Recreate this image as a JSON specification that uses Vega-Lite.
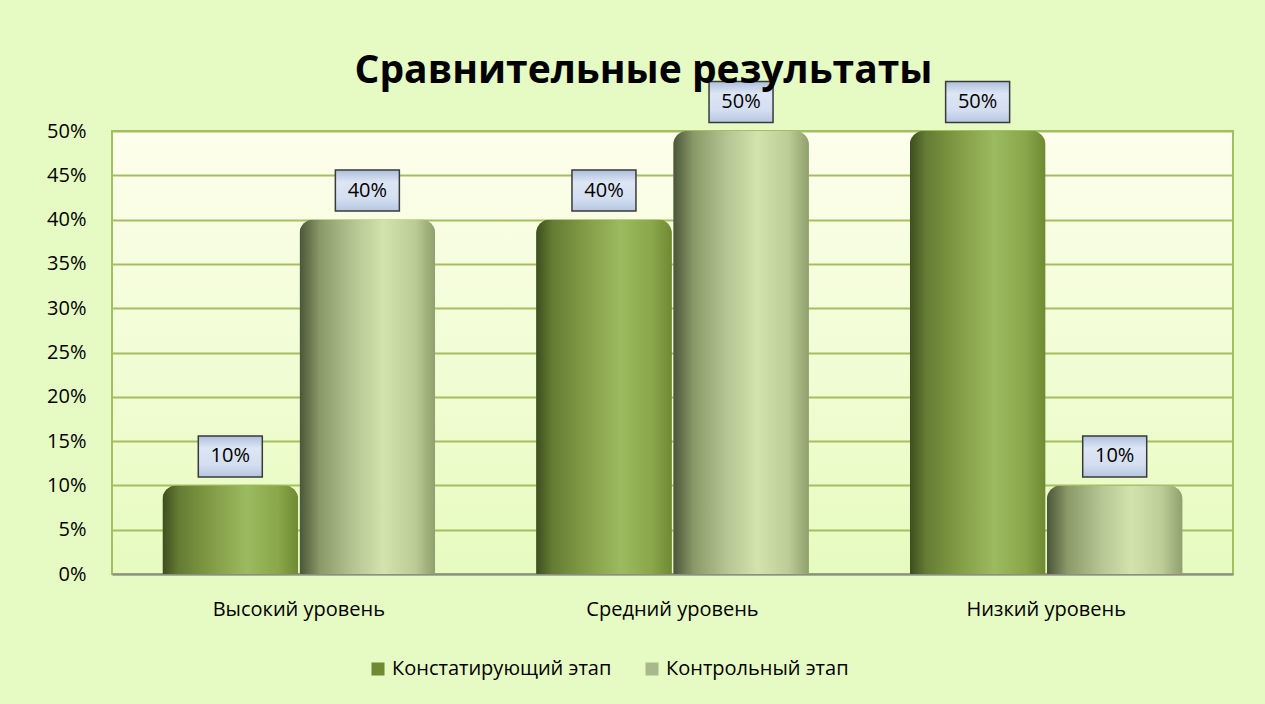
{
  "$schema": "https://vega.github.io/schema/vega-lite/v6.json",
  "width": 1121,
  "height": 443,
  "autosize": {"type": "none"},
  "padding": {"left": 112, "top": 131, "right": 32, "bottom": 130},
  "background": "#e6fbc4",
  "title": {
    "text": "Сравнительные результаты",
    "font": "Open Sans",
    "fontSize": 39,
    "fontWeight": "bold",
    "color": "#000000",
    "anchor": "middle",
    "dx": -29,
    "offset": -12
  },
  "config": {
    "view": {
      "stroke": "#a3bf5f",
      "strokeWidth": 2,
      "fill": {
        "gradient": "linear",
        "x1": 0, "y1": 0, "x2": 0, "y2": 1,
        "stops": [
          {"offset": 0, "color": "#fdfeec"},
          {"offset": 1, "color": "#e6fbbf"}
        ]
      }
    },
    "font": "Open Sans"
  },
  "data": {
    "values": [
      {"level": "Высокий уровень", "stage": "Констатирующий этап", "value": 0.10, "label": "10%"},
      {"level": "Высокий уровень", "stage": "Контрольный этап", "value": 0.40, "label": "40%"},
      {"level": "Средний уровень", "stage": "Констатирующий этап", "value": 0.40, "label": "40%"},
      {"level": "Средний уровень", "stage": "Контрольный этап", "value": 0.50, "label": "50%"},
      {"level": "Низкий уровень", "stage": "Констатирующий этап", "value": 0.50, "label": "50%"},
      {"level": "Низкий уровень", "stage": "Контрольный этап", "value": 0.10, "label": "10%"}
    ]
  },
  "encoding": {
    "x": {
      "field": "level",
      "type": "nominal",
      "sort": ["Высокий уровень", "Средний уровень", "Низкий уровень"],
      "scale": {"paddingInner": 0.27, "paddingOuter": 0.135},
      "axis": {
        "title": null,
        "labelAngle": 0,
        "labelFontSize": 20,
        "labelColor": "#000000",
        "labelPadding": 25,
        "ticks": false,
        "domain": true,
        "domainColor": "#8c8c8c",
        "domainWidth": 2,
        "grid": false
      }
    },
    "xOffset": {
      "field": "stage",
      "type": "nominal",
      "sort": ["Констатирующий этап", "Контрольный этап"],
      "scale": {"paddingInner": 0.01}
    },
    "y": {
      "field": "value",
      "type": "quantitative",
      "scale": {"domain": [0, 0.5], "nice": false},
      "axis": {
        "title": null,
        "format": ".0%",
        "values": [0, 0.05, 0.1, 0.15, 0.2, 0.25, 0.3, 0.35, 0.4, 0.45, 0.5],
        "labelFontSize": 20,
        "labelColor": "#000000",
        "labelPadding": 26,
        "ticks": false,
        "domain": false,
        "grid": true,
        "gridColor": "#a3bf5f",
        "gridWidth": 2
      }
    }
  },
  "layer": [
    {
      "mark": {"type": "bar", "cornerRadiusTopLeft": 14, "cornerRadiusTopRight": 14},
      "encoding": {
        "color": {
          "field": "stage",
          "type": "nominal",
          "sort": ["Констатирующий этап", "Контрольный этап"],
          "scale": {"range": ["#6f8a33", "#aab98b"]},
          "legend": {
            "title": null,
            "orient": "none",
            "legendX": 256,
            "legendY": 528,
            "direction": "horizontal",
            "symbolType": "square",
            "symbolSize": 170,
            "symbolStrokeWidth": 0,
            "labelFontSize": 20,
            "labelColor": "#000000",
            "labelOffset": 4,
            "labelLimit": 0,
            "columnPadding": 30
          }
        }
      }
    },
    {
      "transform": [{"filter": "datum.stage === 'Констатирующий этап'"}],
      "mark": {
        "type": "bar",
        "cornerRadiusTopLeft": 14,
        "cornerRadiusTopRight": 14,
        "color": {
          "gradient": "linear",
          "x1": 0, "y1": 0, "x2": 1, "y2": 0,
          "stops": [
            {"offset": 0, "color": "#3d4e1f"},
            {"offset": 0.12, "color": "#647c33"},
            {"offset": 0.4, "color": "#86a149"},
            {"offset": 0.62, "color": "#9cba5f"},
            {"offset": 0.85, "color": "#8aa74a"},
            {"offset": 1, "color": "#6f8a32"}
          ]
        }
      }
    },
    {
      "transform": [{"filter": "datum.stage === 'Контрольный этап'"}],
      "mark": {
        "type": "bar",
        "cornerRadiusTopLeft": 14,
        "cornerRadiusTopRight": 14,
        "color": {
          "gradient": "linear",
          "x1": 0, "y1": 0, "x2": 1, "y2": 0,
          "stops": [
            {"offset": 0, "color": "#4a5538"},
            {"offset": 0.15, "color": "#899968"},
            {"offset": 0.4, "color": "#b5c594"},
            {"offset": 0.62, "color": "#d2e3ad"},
            {"offset": 0.85, "color": "#bccc96"},
            {"offset": 1, "color": "#8f9f6e"}
          ]
        }
      }
    },
    {
      "mark": {
        "type": "point",
        "shape": "M-1,-0.64L1,-0.64L1,0.64L-1,0.64Z",
        "size": 4096,
        "filled": true,
        "opacity": 1,
        "yOffset": -29,
        "stroke": "#3a3a3a",
        "strokeWidth": 1.5,
        "fill": {
          "gradient": "linear",
          "x1": 0, "y1": 0, "x2": 0, "y2": 1,
          "stops": [
            {"offset": 0, "color": "#aebfdc"},
            {"offset": 0.3, "color": "#dde6f4"},
            {"offset": 0.7, "color": "#d3def0"},
            {"offset": 1, "color": "#b6c6e2"}
          ]
        }
      }
    },
    {
      "mark": {
        "type": "text",
        "fontSize": 20,
        "color": "#000000",
        "baseline": "middle",
        "align": "center",
        "yOffset": -29
      },
      "encoding": {"text": {"field": "label"}}
    }
  ]
}
